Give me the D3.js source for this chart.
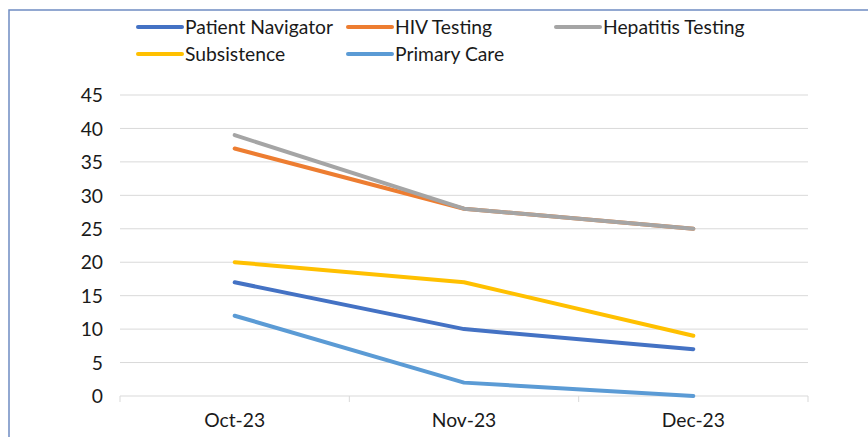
<!DOCTYPE html>
<html><head><meta charset="utf-8">
<script src="https://cdn.jsdelivr.net/npm/d3@7"></script>
<style>body{margin:0;background:#fff}svg{display:block}text{font-family:Lato,"Open Sans",sans-serif;fill:#1a1a1a}</style>
</head><body><svg id="c" width="868" height="437"></svg>
<script>
const categories = ["Oct-23","Nov-23","Dec-23"];
const seriesNames = ["Patient Navigator","HIV Testing","Hepatitis Testing","Subsistence","Primary Care"];
const patientNavigator = [17,10,7];
const hivTesting = [37,28,25];
const hepatitisTesting = [39,28,25];
const subsistence = [20,17,9];
const primaryCare = [12,2,0];
const yTicks = [0,5,10,15,20,25,30,35,40,45];
const colors = ["#4472C4","#ED7D31","#A5A5A5","#FFC000","#5B9BD5"];
const FS = 19.3;

const series = [patientNavigator,hivTesting,hepatitisTesting,subsistence,primaryCare]
  .map((v,i)=>({name:seriesNames[i],values:v,color:colors[i]}));

const svg = d3.select("#c");
// frame
svg.append("path").attr("d","M9,437 V10 H868").attr("fill","none").attr("stroke","#6f8cc2").attr("stroke-width",1.5);

const x = d3.scaleBand().domain(categories).range([120,808]);
const y = d3.scaleLinear().domain([0,45]).range([396,95]);

// gridlines
svg.append("g").selectAll("line").data(yTicks.filter(d=>d>0)).join("line")
  .attr("x1",120).attr("x2",808).attr("y1",d=>y(d)).attr("y2",d=>y(d))
  .attr("stroke","#d9d9d9").attr("stroke-width",1);

// y axis labels
const ya = svg.append("g").attr("transform","translate(103,0)")
  .call(d3.axisLeft(y).tickValues(yTicks).tickSize(0).tickPadding(0));
ya.select(".domain").remove();
ya.selectAll("text").attr("font-size",FS).attr("font-family","Lato").attr("fill","#1a1a1a").attr("dy","0.35em");

// x axis
const xa = svg.append("g").attr("transform","translate(0,396)")
  .call(d3.axisBottom(x).tickSize(0).tickPadding(17));
xa.select(".domain").attr("stroke","#d9d9d9").attr("d","M120,6V0H808V6");
xa.selectAll("text").attr("font-size",FS).attr("font-family","Lato").attr("fill","#1a1a1a");
svg.append("g").selectAll("line").data(categories.slice(1)).join("line")
  .attr("x1",d=>x(d)).attr("x2",d=>x(d)).attr("y1",396).attr("y2",402)
  .attr("stroke","#d9d9d9");

// lines
const line = d3.line().x((d,i)=>x(categories[i])+x.bandwidth()/2).y(d=>y(d));
svg.append("g").selectAll("path").data(series).join("path")
  .attr("d",d=>line(d.values)).attr("fill","none").attr("stroke",d=>d.color)
  .attr("stroke-width",4).attr("stroke-linecap","round").attr("stroke-linejoin","round");

// legend
const legPos = [[138,27],[348,27],[556,27],[138,54],[348,54]];
const lg = svg.append("g").selectAll("g").data(series).join("g")
  .attr("transform",(d,i)=>`translate(${legPos[i][0]},${legPos[i][1]})`);
lg.append("line").attr("x1",0).attr("x2",44).attr("y1",0).attr("y2",0)
  .attr("stroke",d=>d.color).attr("stroke-width",4).attr("stroke-linecap","round");
lg.append("text").attr("x",47).attr("y",0).attr("dy","0.35em").attr("font-size",FS).attr("font-family","Lato").text(d=>d.name);
</script></body></html>
